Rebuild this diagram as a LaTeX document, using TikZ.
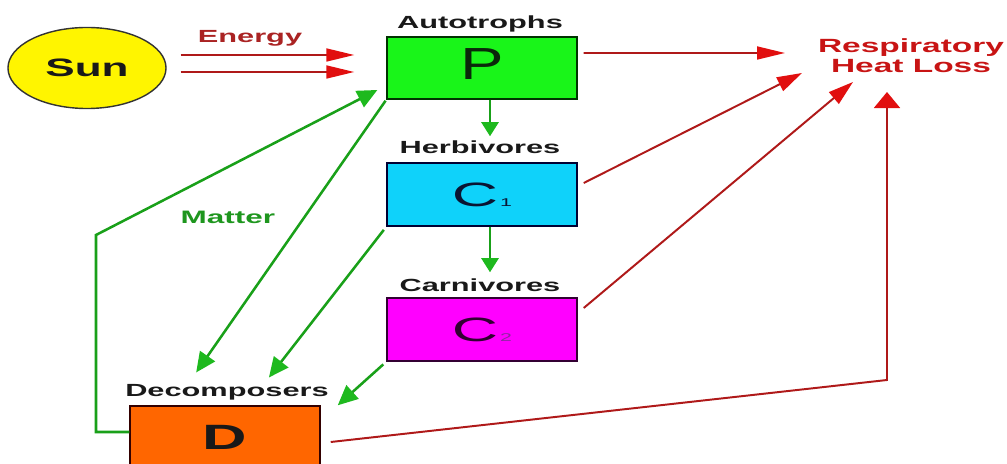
\documentclass[tikz,border=0pt]{standalone}
\usepackage{fontspec}
\setmainfont{Liberation Sans}
\newfontfamily\labfont[FakeStretch=1.75]{Liberation Sans}
\newfontfamily\pfont[FakeStretch=1.45]{Liberation Sans}
\newfontfamily\cfont[FakeStretch=1.9]{Liberation Sans}
\usetikzlibrary{arrows.meta,shapes.geometric}
\definecolor{redline}{RGB}{175,25,25}
\definecolor{redhead}{RGB}{225,15,15}
\definecolor{grline}{RGB}{25,160,25}
\definecolor{grhead}{RGB}{30,185,30}
\definecolor{energytxt}{RGB}{170,35,35}
\definecolor{resptxt}{RGB}{200,20,20}
\definecolor{mattertxt}{RGB}{30,150,30}
\definecolor{sunfill}{RGB}{255,245,0}
\definecolor{pfill}{RGB}{25,245,25}
\definecolor{cafill}{RGB}{15,210,250}
\definecolor{cbfill}{RGB}{255,0,255}
\definecolor{dfill}{RGB}{255,102,0}
\definecolor{ctxt}{RGB}{10,20,50}
\definecolor{cbtxt}{RGB}{50,0,50}
\definecolor{cbsub}{RGB}{140,40,160}
\tikzset{
  box/.style={rectangle, inner sep=0pt, minimum width=4.75cm, minimum height=1.55cm, line width=1pt},
  lab/.style={anchor=base, inner sep=0pt, font=\labfont\bfseries\fontsize{12.5}{14}\selectfont, text=black!90},
  rlineR/.style={draw=redline, line width=1.4pt, -{Triangle[length=19.9pt,width=9.2pt,color=redhead]}},
  rlineD/.style={draw=redline, line width=1.4pt, -{Triangle[length=17.8pt,width=10.7pt,color=redhead]}},
  rlineU/.style={draw=redline, line width=1.4pt, -{Triangle[length=11.4pt,width=18.5pt,color=redhead]}},
  glineV/.style={draw=grline, line width=1.8pt, -{Triangle[length=10pt,width=12.1pt,color=grhead]}},
  glineD/.style={draw=grline, line width=1.8pt, -{Triangle[length=14.2pt,width=12.8pt,color=grhead]}},
}
\begin{document}
\begin{tikzpicture}[x=0.025cm,y=-0.025cm]
\useasboundingbox (0,0) rectangle (1007,464);
\clip (0,0) rectangle (1007,464);

% Sun
\node[ellipse, draw=black!80, line width=1pt, fill=sunfill, minimum width=3.95cm, minimum height=2.025cm, inner sep=0pt,
      font=\labfont\bfseries\fontsize{17.9}{20}\selectfont, text=black!90] (sun) at (87,68) {Sun};

% Boxes
\node[box, draw=black!80!green, fill=pfill, text depth=0.2cm, font=\pfont\fontsize{32}{34}\selectfont, text={rgb,255:red,10;green,40;blue,10}] (P) at (482,68) {P};
\node[box, draw=black!80!blue, fill=cafill, minimum height=1.575cm, font=\cfont\fontsize{24}{26}\selectfont, text=ctxt] (C1) at (482,194.5) {C{\fontsize{8}{9}\selectfont\,1}};
\node[box, draw=cbtxt, fill=cbfill, minimum height=1.575cm, font=\cfont\fontsize{24}{26}\selectfont, text=cbtxt] (C2) at (482,329.5) {C{\fontsize{8}{9}\selectfont\,\textcolor{cbsub}{2}}};
\node[box, draw=black!80!red, fill=dfill, font=\labfont\bfseries\fontsize{25}{27}\selectfont, text=black!90] (D) at (225,437) {D};

% Labels
\node[lab, text=energytxt] (energy) at (250,43) {Energy};
\node[lab] (auto) at (480,29) {Autotrophs};
\node[lab] (herb) at (480,154) {Herbivores};
\node[lab] (carn) at (480,292) {Carnivores};
\node[lab] (decomp) at (227,397) {Decomposers};
\node[lab, font=\labfont\bfseries\fontsize{12.8}{14}\selectfont, text=mattertxt] (matter) at (228,224) {Matter};
\node[inner sep=0pt, align=center, font=\labfont\bfseries\fontsize{13.6}{14.2}\selectfont, text=resptxt] (resp) at (911,56) {Respiratory\\Heat Loss};

% Free ends of heat-loss arrows
\coordinate (h1) at (785,53);
\coordinate (h2) at (802,73);
\coordinate (h3) at (853,82);
\coordinate (hc) at (887,380);
\coordinate (h4) at (887,92);
\coordinate (m1) at (96,235);

% Energy arrows
\draw[rlineR] ([yshift=0.325cm, xshift=0.35cm]sun.east) -- ([yshift=0.325cm, xshift=-0.8cm]P.west);
\draw[rlineR] ([yshift=-0.1cm, xshift=0.35cm]sun.east) -- ([yshift=-0.1cm, xshift=-0.8cm]P.west);

% Heat loss
\draw[rlineR] ([yshift=0.375cm, xshift=0.15cm]P.east) -- (h1);
\draw[rlineD] ([yshift=0.2875cm, xshift=0.15cm]C1.east) -- (h2);
\draw[rlineD] ([yshift=0.5375cm, xshift=0.15cm]C2.east) -- (h3);
\draw[rlineU] ([yshift=-0.125cm, xshift=0.25cm]D.east) -- (hc) -- (h4);

% Matter flow
\draw[glineV, shorten >=0.65cm] ([xshift=0.2cm]P.south) -- ([xshift=0.2cm]C1.north);
\draw[glineV, shorten >=0.625cm] ([xshift=0.2cm]C1.south) -- ([xshift=0.2cm]C2.north);
\draw[glineD, shorten <=0.03cm, shorten >=1.0cm] (P.south west) -- ([xshift=1.1cm]D.north west);
\draw[glineD, shorten <=0.1cm, shorten >=0.88cm] (C1.south west) -- ([xshift=2.95cm]D.north west);
\draw[glineD, shorten <=0.1cm] (C2.south west) -- ([xshift=0.425cm]D.north east);
\draw[glineD, shorten >=0.25cm] ([yshift=0.125cm]D.west) -| (m1) -- ([yshift=-0.435cm]P.west);
\end{tikzpicture}
\end{document}
